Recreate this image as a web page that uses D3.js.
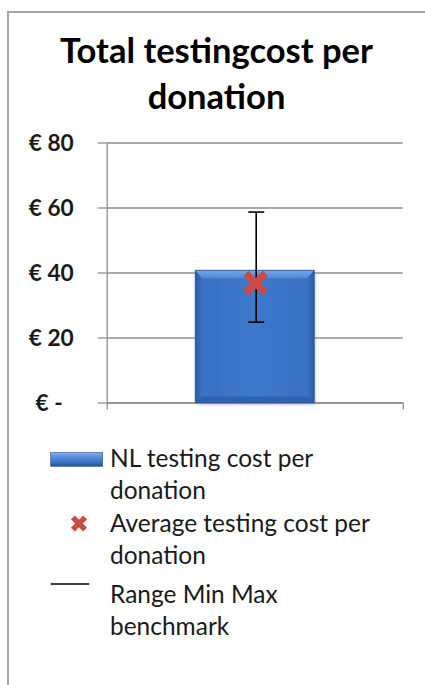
<!DOCTYPE html>
<html>
<head>
<meta charset="utf-8">
<script src="https://cdn.jsdelivr.net/npm/d3@7"></script>
<style>
  html, body { margin: 0; padding: 0; background: #fff; }
  svg { display: block; }
  text { font-family: Lato, "Open Sans", "Liberation Sans", sans-serif; }
</style>
</head>
<body>
<script>
// ---- data ----
const categories = ["NL"];
const nlCost = [40.7];
const avgCost = [36.7];
const rangeMin = [24.7];
const rangeMax = [58.6];
const yTicks = [0, 20, 40, 60, 80];
const yTickLabels = ["€ -", "€ 20", "€ 40", "€ 60", "€ 80"];
const titleLines = ["Total testingcost per", "donation"];
const legendLabels = [
  ["NL testing cost per", "donation"],
  ["Average testing cost per", "donation"],
  ["Range Min Max", "benchmark"]
];

const W = 425, H = 685;
const svg = d3.select("body").append("svg").attr("width", W).attr("height", H);
const defs = svg.append("defs");

// bar gradients
const gH = defs.append("linearGradient").attr("id", "barH").attr("x1", 0).attr("x2", 1).attr("y1", 0).attr("y2", 0);
gH.append("stop").attr("offset", "0%").attr("stop-color", "#2b5aa6");
gH.append("stop").attr("offset", "6%").attr("stop-color", "#3a72c4");
gH.append("stop").attr("offset", "50%").attr("stop-color", "#3d78cb");
gH.append("stop").attr("offset", "94%").attr("stop-color", "#3a72c4");
gH.append("stop").attr("offset", "100%").attr("stop-color", "#2b5aa6");
const gTop = defs.append("linearGradient").attr("id", "barTop").attr("x1", 0).attr("x2", 0).attr("y1", 0).attr("y2", 1);
gTop.append("stop").attr("offset", "0%").attr("stop-color", "#74a8ec");
gTop.append("stop").attr("offset", "100%").attr("stop-color", "#4f87d6");
const gLeg = defs.append("linearGradient").attr("id", "legBar").attr("x1", 0).attr("x2", 0).attr("y1", 0).attr("y2", 1);
gLeg.append("stop").attr("offset", "0%").attr("stop-color", "#86b6ee");
gLeg.append("stop").attr("offset", "30%").attr("stop-color", "#5a90da");
gLeg.append("stop").attr("offset", "75%").attr("stop-color", "#3a6fc0");
gLeg.append("stop").attr("offset", "100%").attr("stop-color", "#234f94");
const blur = defs.append("filter").attr("id", "sh").attr("x", "-10%").attr("y", "-10%").attr("width", "130%").attr("height", "130%");
blur.append("feGaussianBlur").attr("stdDeviation", 1.5);

// outer border
svg.append("path")
  .attr("d", `M8,${H + 5} L8,12 L${W + 5},12`)
  .attr("fill", "none").attr("stroke", "#a6a6a6").attr("stroke-width", 2);

// title
const title = svg.append("g");
titleLines.forEach((t, i) => {
  title.append("text")
    .attr("x", 216.5).attr("y", 63 + i * 46)
    .attr("text-anchor", "middle")
    .attr("font-weight", "bold")
    .attr("font-size", 29)
    .attr("fill", "#000")
    .text(t);
});
{
  const t0 = title.select("text").node();
  const w = t0.getComputedTextLength();
  title.selectAll("text").attr("font-size", 29 * 313 / w);
}

// scales
const plotL = 106.7, plotR = 402.7, plotT = 142.5, plotB = 402.5;
const y = d3.scaleLinear().domain([0, 80]).range([plotB, plotT]);
const x = d3.scaleBand().domain(categories).range([plotL, plotR]).paddingInner(0).paddingOuter(0.744);
const xEdge = d3.scaleLinear().domain([0, 1]).range([plotL, plotR]);

// gridlines
const grid = svg.append("g").attr("transform", `translate(${plotL},0)`)
  .call(d3.axisLeft(y).tickValues(yTicks).tickSizeInner(-(plotR - plotL)).tickSizeOuter(0).tickFormat(""));
grid.select(".domain").remove();
grid.selectAll("line").attr("stroke", "#8f8f8f").attr("stroke-width", 1.3);

// y axis
const yAx = svg.append("g").attr("transform", `translate(${plotL},0)`)
  .call(d3.axisLeft(y).tickValues(yTicks).tickSizeInner(9).tickSizeOuter(0).tickPadding(24)
    .tickFormat((d, i) => yTickLabels[i]));
yAx.select(".domain").attr("stroke", "#8f8f8f").attr("stroke-width", 1.3);
yAx.selectAll("line").attr("stroke", "#8f8f8f").attr("stroke-width", 1.3);
yAx.selectAll("text")
  .attr("font-size", 20).attr("font-weight", "bold").attr("fill", "#1a1a1a")
  .attr("dy", "0.34em");
{
  const n = yAx.selectAll(".tick").filter(d => d === 80).select("text").node();
  const w = n.getComputedTextLength();
  yAx.selectAll("text").attr("font-size", 20 * 45 / w);
}
yAx.selectAll(".tick").filter(d => d === 0).select("text").attr("dx", -11);

// bottom axis (category boundaries)
const xAx = svg.append("g").attr("transform", `translate(0,${plotB})`)
  .call(d3.axisBottom(xEdge).tickValues([0, 1]).tickSizeInner(7).tickSizeOuter(0).tickFormat(""));
xAx.select(".domain").attr("stroke", "#8f8f8f").attr("stroke-width", 1.3);
xAx.selectAll("line").attr("stroke", "#8f8f8f").attr("stroke-width", 1.3);

// bars
const bars = svg.append("g");
categories.forEach((c, i) => {
  const bx = x(c), bw = x.bandwidth(), by = y(nlCost[i]), bh = y(0) - y(nlCost[i]);
  bars.append("rect").attr("x", bx + 1).attr("y", by + 2).attr("width", bw).attr("height", bh)
    .attr("fill", "#6b7890").attr("opacity", 0.5).attr("filter", "url(#sh)");
  bars.append("rect").attr("x", bx).attr("y", by).attr("width", bw).attr("height", bh)
    .attr("fill", "url(#barH)");
  bars.append("path")
    .attr("d", `M${bx},${by} L${bx + bw},${by} L${bx + bw - 7},${by + 8} L${bx + 7},${by + 8} Z`)
    .attr("fill", "url(#barTop)");
  bars.append("path")
    .attr("d", `M${bx},${by + bh} L${bx + bw},${by + bh} L${bx + bw - 7},${by + bh - 6} L${bx + 7},${by + bh - 6} Z`)
    .attr("fill", "#2d5ea8").attr("opacity", 0.8);
  bars.append("rect").attr("x", bx).attr("y", by).attr("width", bw).attr("height", bh)
    .attr("fill", "none").attr("stroke", "#2a5596").attr("stroke-width", 0.8);
});

// error bars (range min max)
const err = svg.append("g");
categories.forEach((c, i) => {
  const cx = x(c) + x.bandwidth() / 2 + 1.5;
  err.append("line").attr("x1", cx).attr("x2", cx).attr("y1", y(rangeMax[i])).attr("y2", y(rangeMin[i]))
    .attr("stroke", "#000").attr("stroke-width", 1.6);
  [rangeMax[i], rangeMin[i]].forEach(v => {
    err.append("line").attr("x1", cx - 8).attr("x2", cx + 8).attr("y1", y(v)).attr("y2", y(v))
      .attr("stroke", "#000").attr("stroke-width", 1.6);
  });
});

// average markers
const markColor = "#cc4b48";
const bigX = d3.symbol().type(d3.symbolX).size(250);
const mk = svg.append("g");
categories.forEach((c, i) => {
  const cx = x(c) + x.bandwidth() / 2 + 1;
  mk.append("path").attr("d", bigX())
    .attr("transform", `translate(${cx},${y(avgCost[i])})`)
    .attr("fill", "none").attr("stroke", markColor).attr("stroke-width", 7.5);
});

// legend
const leg = svg.append("g");
const legTextX = 110;
const baselines = [[467, 499], [531.5, 563.5], [603, 635]];
legendLabels.forEach((lines, i) => {
  lines.forEach((t, j) => {
    leg.append("text").attr("x", legTextX).attr("y", baselines[i][j])
      .attr("font-size", 20).attr("fill", "#1a1a1a").text(t);
  });
});
{
  const n = leg.selectAll("text").nodes()[2];
  const w = n.getComputedTextLength();
  leg.selectAll("text").attr("font-size", 20 * 260 / w);
}
leg.append("rect").attr("x", 50.7).attr("y", 452.3).attr("width", 52).attr("height", 14)
  .attr("fill", "url(#legBar)").attr("stroke", "#2a5596").attr("stroke-width", 0.6);
leg.append("path").attr("d", d3.symbol().type(d3.symbolX).size(100)())
  .attr("transform", "translate(79,523.5)")
  .attr("fill", "none").attr("stroke", markColor).attr("stroke-width", 5.5);
leg.append("line").attr("x1", 50.7).attr("x2", 89.3).attr("y1", 584).attr("y2", 584)
  .attr("stroke", "#000").attr("stroke-width", 1.6);
</script>
</body>
</html>
